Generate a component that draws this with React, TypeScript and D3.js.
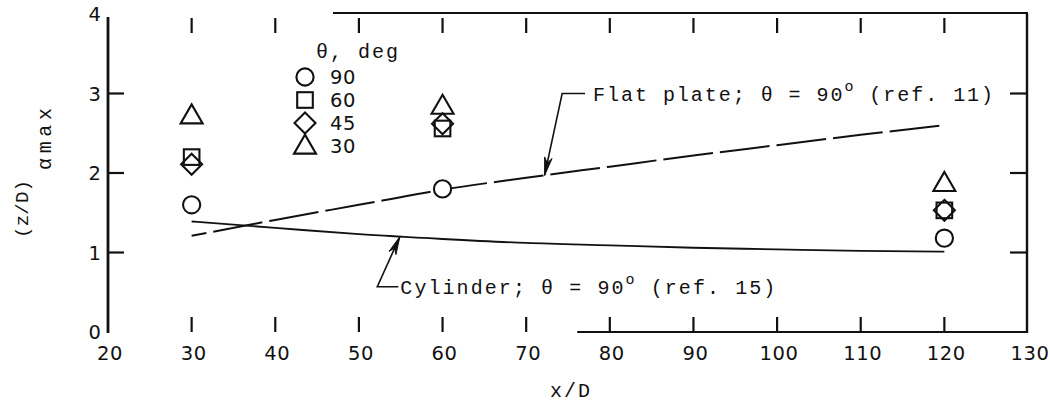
import React from "react";
import * as d3 from "d3";

const W = 1050;
const H = 405;

// Axis ticks
const xTickValues = [20, 30, 40, 50, 60, 70, 80, 90, 100, 110, 120, 130];
const yTickValues = [0, 1, 2, 3, 4];

// Measured maxima at the three stations, one array per jet angle
const stationX = [30, 60, 120];
const theta90 = [1.6, 1.8, 1.18];
const theta60 = [2.2, 2.56, 1.53];
const theta45 = [2.11, 2.62, 1.53];
const theta30 = [2.72, 2.84, 1.87];
const legendLabels = ["90", "60", "45", "30"];

// Reference curves
const curveX = [30, 40, 50, 60, 70, 80, 90, 100, 110, 120];
const flatPlate = [1.21, 1.41, 1.6, 1.79, 1.94, 2.08, 2.22, 2.35, 2.48, 2.6];
const cylinder = [1.39, 1.31, 1.23, 1.17, 1.12, 1.09, 1.06, 1.04, 1.02, 1.01];

// Frame segments that survive on the top and bottom edges (x/D where they start)
const topBorderFrom = 46.9;
const bottomBorderFrom = 76.1;

const MONO = "'Liberation Mono', 'DejaVu Sans Mono', monospace";
const SANS = "'DejaVu Sans', 'Liberation Sans', sans-serif";

type Shape = "circle" | "square" | "diamond" | "triangle";

function Marker({ shape, cx, cy }: { shape: Shape; cx: number; cy: number }) {
  const common = { stroke: "#111", strokeWidth: 2.1, fill: "none" as string };
  if (shape === "circle") {
    return <circle cx={cx} cy={cy} r={8.6} {...common} fill="#fff" />;
  }
  if (shape === "square") {
    const s = 7.8;
    return <rect x={cx - s} y={cy - s} width={2 * s} height={2 * s} {...common} />;
  }
  if (shape === "diamond") {
    const s = 10.5;
    const p = d3.path();
    p.moveTo(cx, cy - s);
    p.lineTo(cx + s, cy);
    p.lineTo(cx, cy + s);
    p.lineTo(cx - s, cy);
    p.closePath();
    return <path d={p.toString()} {...common} />;
  }
  const hw = 11;
  const h = 19;
  const p = d3.path();
  p.moveTo(cx, cy - h * 0.6);
  p.lineTo(cx + hw, cy + h * 0.4);
  p.lineTo(cx - hw, cy + h * 0.4);
  p.closePath();
  return <path d={p.toString()} {...common} />;
}

function arrowHead(tip: [number, number], from: [number, number], len = 18, half = 3.8) {
  const dx = tip[0] - from[0];
  const dy = tip[1] - from[1];
  const L = Math.hypot(dx, dy);
  const ux = dx / L;
  const uy = dy / L;
  const bx = tip[0] - ux * len;
  const by = tip[1] - uy * len;
  const p = d3.path();
  p.moveTo(tip[0], tip[1]);
  p.lineTo(bx - uy * half, by + ux * half);
  p.lineTo(tip[0] - ux * len * 0.7, tip[1] - uy * len * 0.7);
  p.lineTo(bx + uy * half, by - ux * half);
  p.closePath();
  return p.toString();
}

export default function App() {
  const x = d3.scaleLinear().domain([20, 130]).range([108, 1028]);
  const y = d3.scaleLinear().domain([0, 4]).range([332, 14]);

  const flatAt = d3.scaleLinear().domain(curveX).range(flatPlate);
  const cylAt = d3.scaleLinear().domain(curveX).range(cylinder);

  const line = d3
    .line<number>()
    .x((_, i) => x(curveX[i]))
    .curve(d3.curveMonotoneX);

  const flatPath = line.y((v) => y(v))(flatPlate) || "";
  const cylPath = line.y((v) => y(v))(cylinder) || "";

  const series: { shape: Shape; values: number[] }[] = [
    { shape: "circle", values: theta90 },
    { shape: "square", values: theta60 },
    { shape: "diamond", values: theta45 },
    { shape: "triangle", values: theta30 },
  ];

  // Leader for the flat-plate label
  const flatTipX = 72.2;
  const flatTip: [number, number] = [x(flatTipX), y(flatAt(flatTipX))];
  const flatElbow: [number, number] = [x(74.3), y(3.0)];
  const flatTextX = x(78.0);

  // Leader for the cylinder label
  const cylTipX = 54.9;
  const cylTip: [number, number] = [x(cylTipX), y(cylAt(cylTipX))];
  const cylElbow: [number, number] = [x(52.2), y(0.57)];
  const cylTextX = x(54.95);

  const axisColor = "#111";
  const tickLen = 15;

  return (
    <svg width={W} height={H} viewBox={`0 0 ${W} ${H}`} style={{ display: "block", position: "absolute", left: 0, top: 0, background: "#fff" }}>
      <rect x={0} y={0} width={W} height={H} fill="#fff" />

      {/* frame */}
      <line x1={x(20)} x2={x(20)} y1={y(4) + 3} y2={y(0) + 1} stroke={axisColor} strokeWidth={2.8} />
      <line x1={x(130) - 1} x2={x(130) - 1} y1={y(4) - 1} y2={y(0) + 1} stroke={axisColor} strokeWidth={2.4} />
      <line x1={x(topBorderFrom)} x2={x(130)} y1={y(4) - 1} y2={y(4) - 1} stroke={axisColor} strokeWidth={2} />
      <line x1={x(bottomBorderFrom)} x2={x(130)} y1={y(0)} y2={y(0)} stroke={axisColor} strokeWidth={2} />

      {/* x ticks (inward, top and bottom) */}
      {xTickValues.slice(1, -1).map((t) => (
        <g key={`xt${t}`}>
          <line x1={x(t)} x2={x(t)} y1={y(0)} y2={y(0) - tickLen} stroke={axisColor} strokeWidth={2.2} />
          <line x1={x(t)} x2={x(t)} y1={y(4) + 4} y2={y(4) + 4 + tickLen} stroke={axisColor} strokeWidth={2.2} />
        </g>
      ))}
      {/* y ticks (inward, left and right) */}
      {yTickValues.slice(1, -1).map((t) => (
        <g key={`yt${t}`}>
          <line x1={x(20)} x2={x(20) + 16} y1={y(t)} y2={y(t)} stroke={axisColor} strokeWidth={2.2} />
          <line x1={x(130) - 1} x2={x(130) - 18} y1={y(t)} y2={y(t)} stroke={axisColor} strokeWidth={2.2} />
        </g>
      ))}

      {/* tick labels */}
      {xTickValues.map((t) => (
        <text key={`xl${t}`} x={x(t) + 2} y={360} textAnchor="middle" fontFamily={SANS} fontSize={19.5} letterSpacing={0.6} fill="#111">
          {t}
        </text>
      ))}
      {yTickValues.map((t) => (
        <text key={`yl${t}`} x={101} y={y(t)} dy="0.36em" textAnchor="end" fontFamily={SANS} fontSize={19.5} fill="#111">
          {t}
        </text>
      ))}

      {/* axis titles */}
      <text x={570} y={397} textAnchor="middle" fontFamily={MONO} fontSize={20} fill="#111" textLength={40} lengthAdjust="spacing">
        x/D
      </text>
      <g transform="rotate(-90)">
        <text x={-238} y={28} fontFamily={MONO} fontSize={19} fill="#111" textLength={58} lengthAdjust="spacing">
          (z/D)
        </text>
        <text x={-170} y={51} fontFamily={MONO} fontSize={20} fill="#111" textLength={62} lengthAdjust="spacing">
          αmax
        </text>
      </g>

      {/* reference curves */}
      <path d={flatPath} fill="none" stroke="#111" strokeWidth={2} strokeDasharray="50 7" strokeDashoffset={-22} />
      <path d={cylPath} fill="none" stroke="#111" strokeWidth={1.8} />

      {/* flat-plate label and leader */}
      <polyline
        points={`${flatTextX - 8},${flatElbow[1]} ${flatElbow[0]},${flatElbow[1]} ${flatTip[0]},${flatTip[1]}`}
        fill="none"
        stroke="#111"
        strokeWidth={1.6}
      />
      <path d={arrowHead(flatTip, flatElbow)} fill="#111" stroke="#111" strokeWidth={1} />
      <text x={flatTextX} y={flatElbow[1]} dy="0.35em" fontFamily={MONO} fontSize={20} fill="#111" textLength={400} lengthAdjust="spacing">
        Flat plate; θ = 90
        <tspan fontSize={15} dy={-10}>o</tspan>
        <tspan dy={10}> (ref. 11)</tspan>
      </text>

      {/* cylinder label and leader */}
      <polyline
        points={`${cylTextX - 2},${cylElbow[1]} ${cylElbow[0]},${cylElbow[1]} ${cylTip[0]},${cylTip[1]}`}
        fill="none"
        stroke="#111"
        strokeWidth={1.6}
      />
      <path d={arrowHead(cylTip, cylElbow)} fill="#111" stroke="#111" strokeWidth={1} />
      <text x={cylTextX} y={cylElbow[1]} dy="0.35em" fontFamily={MONO} fontSize={20} fill="#111" textLength={375} lengthAdjust="spacing">
        Cylinder; θ = 90
        <tspan fontSize={15} dy={-10}>o</tspan>
        <tspan dy={10}> (ref. 15)</tspan>
      </text>

      {/* data markers */}
      {series.map((s) =>
        s.values.map((v, i) => <Marker key={`${s.shape}${i}`} shape={s.shape} cx={x(stationX[i])} cy={y(v)} />)
      )}

      {/* legend */}
      <text x={316} y={58} fontFamily={MONO} fontSize={20} fill="#111" textLength={82} lengthAdjust="spacing">
        θ, deg
      </text>
      {series.map((s, i) => {
        const ry = 77 + i * 23;
        return (
          <g key={`lg${i}`}>
            <Marker shape={s.shape} cx={305} cy={ry} />
            <text x={330} y={ry} dy="0.36em" fontFamily={SANS} fontSize={19.5} letterSpacing={0.6} fill="#111">
              {legendLabels[i]}
            </text>
          </g>
        );
      })}
    </svg>
  );
}
